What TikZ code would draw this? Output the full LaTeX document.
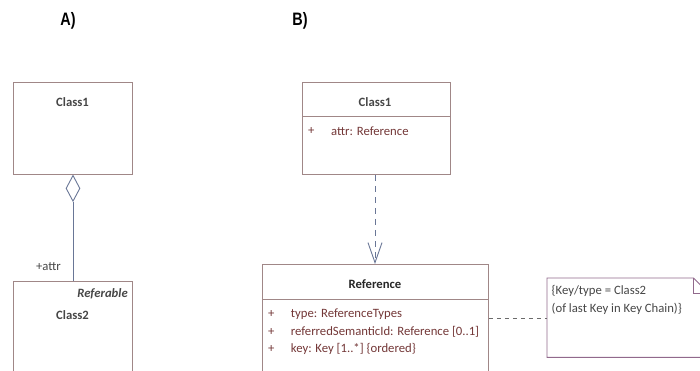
\documentclass[tikz,border=0pt]{standalone}
\usepackage{fontspec}
\setmainfont{Carlito}
\newfontfamily\headfont{Liberation Sans}
\usetikzlibrary{arrows.meta,positioning,shapes.geometric}

\definecolor{boxline}{RGB}{160,135,135}
\definecolor{noteline}{RGB}{145,105,140}
\definecolor{attrtext}{RGB}{115,55,55}
\definecolor{titletext}{RGB}{70,70,70}
\definecolor{linkline}{RGB}{105,118,150}

\tikzset{
    classbox/.style={draw=boxline, line width=0.9pt, anchor=north west, inner sep=0pt},
    title/.style={font=\fontsize{12.7}{15}\selectfont\bfseries, text=titletext},
    attr/.style={font=\fontsize{12.7}{15}\selectfont, text=attrtext, anchor=west, inner sep=0pt},
    head/.style={font=\fontsize{18}{20}\selectfont\headfont\bfseries, xscale=0.8},
    link/.style={draw=linkline, line width=0.9pt}
}

\begin{document}
\begin{tikzpicture}[x=1pt, y=-1pt]
    \useasboundingbox (0,0) rectangle (700,371);
    \clip (0,0) rectangle (700,371);

    % Headings
    \node[head] (headA) at (68,21) {A)};
    \node[head] (headB) at (300,21) {B)};

    % A) aggregation
    \node[classbox, minimum width=119pt, minimum height=92pt] (aclass1) at (13,82) {};
    \node[title] (aclass1t) at (72.5,102) {Class1};
    \node[classbox, minimum width=119pt, minimum height=130pt] (aclass2) at (13,281) {};
    \node[title] (aclass2t) at (72.5,315) {Class2};
    \node[attr, anchor=east, text=titletext, font=\fontsize{12.7}{15}\selectfont\itshape\bfseries] (aster) at (128,294) {Referable};
    \node[draw=linkline, line width=0.9pt, diamond, inner sep=0pt,
          minimum width=14pt, minimum height=26pt, anchor=north] (agg) at (aclass1.south -| 73,0) {};
    \draw[link] (agg.south) -- (aclass2.north -| agg.south);
    \node[attr, anchor=east, text=titletext] (role) at (61,267) {+attr};

    % B) reference
    \node[classbox, minimum width=148pt, minimum height=92pt] (bclass1) at (302,82) {};
    \draw[draw=boxline, line width=0.9pt] (302,116.7) -- (450,116.7);
    \node[title] (bclass1t) at (375,102) {Class1};
    \node[attr] at (308,131) {+};
    \node[attr] (battr) at (331,131) {attr: Reference};

    \node[classbox, minimum width=226pt, minimum height=130pt] (ref) at (262,264) {};
    \draw[draw=boxline, line width=0.9pt] (262,299) -- (488,299);
    \node[title, text=black!85] (reft) at (375,284) {Reference};
    \foreach \y/\txt in {314/{type: ReferenceTypes},
                         331.7/{referredSemanticId: Reference [0..1]},
                         349.3/{key: Key [1..*] \{ordered\}}} {
        \node[attr] at (268,\y) {+};
        \node[attr] at (290.7,\y) {\txt};
    }

    % Dependency
    \draw[link, dashed, dash pattern=on 6pt off 5pt, -{Straight Barb[length=20pt, width=14pt, line width=0.9pt]}]
        (bclass1.south -| reft) -- (ref.north -| reft);

    % Note
    \node[anchor=north west, minimum width=160pt, minimum height=79pt, inner sep=0pt] (note) at (547,278) {};
    \draw[draw=noteline, line width=0.9pt]
        (note.north west) -- ([xshift=-14pt]note.north east) -- ([yshift=-14pt]note.north east)
        -- (note.south east) -- (note.south west) -- cycle;
    \draw[draw=noteline, line width=0.9pt]
        ([xshift=-14pt]note.north east) -- ([xshift=-14pt,yshift=-15pt]note.north east) -- ([yshift=-15pt]note.north east);
    \node[attr, text=titletext, align=left, anchor=north west, font=\fontsize{12.7}{17.7}\selectfont]
        (notet) at (551.5,285.5) {\{Key/type = Class2\\(of last Key in Key Chain)\}};

    % Note link
    \coordinate (lnk) at (0,318.3);
    \draw[draw=titletext!80, line width=0.8pt, dash pattern=on 4pt off 4pt] (ref.east |- lnk) -- (note.west |- lnk);
\end{tikzpicture}
\end{document}
